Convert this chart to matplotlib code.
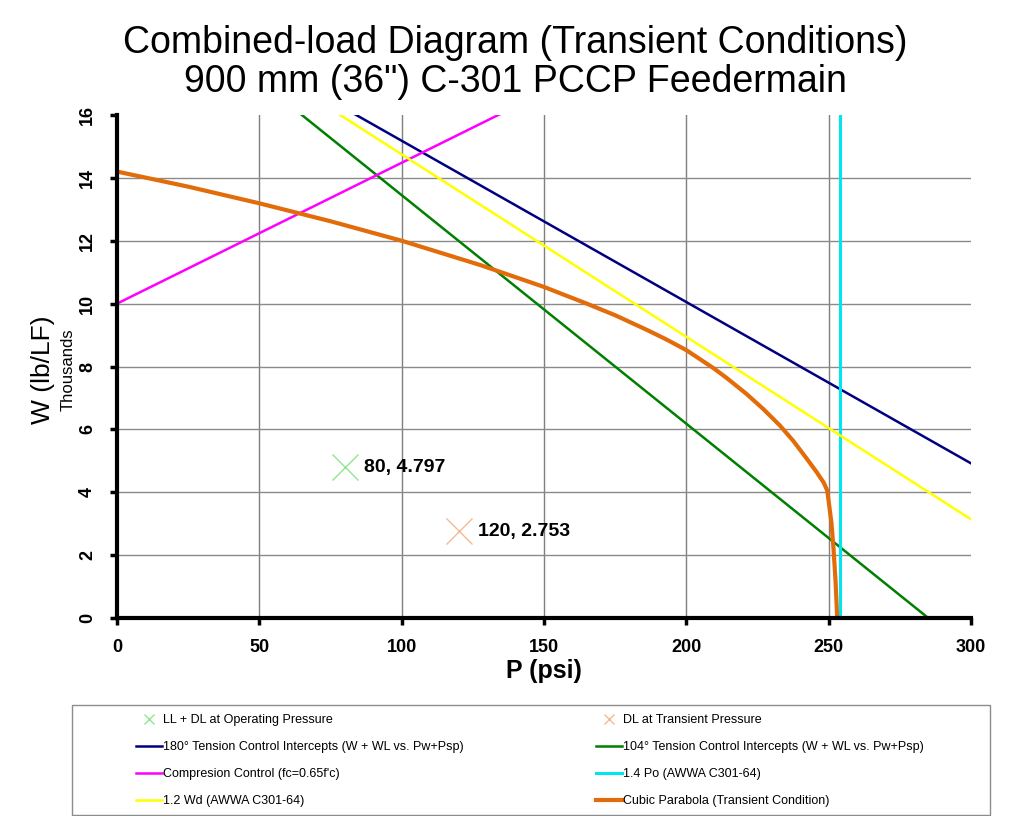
import numpy as np
import matplotlib
matplotlib.use("Agg")
import matplotlib.pyplot as plt
from matplotlib.patches import Rectangle

plt.rcParams['font.family'] = ['Liberation Sans', 'DejaVu Sans']

# Straight-line series (psi, thousands lb/LF), clipped by the axes
p_180 = [0, 300]
w_180 = [20.31, 4.92]
p_104 = [0, 285]
w_104 = [20.72, 0.0]
p_comp = [0, 300]
w_comp = [10.0, 23.44]
p_wd = [0, 300]
w_wd = [20.55, 3.14]
p_po = [254, 254]
w_po = [0, 16]

# Cubic parabola (transient condition)
p_cubic = [0, 25, 50, 75, 100, 127.5, 149.7, 165, 175, 186, 193, 200, 209.5,
           214.1, 221.1, 227, 232.9, 237.6, 242.2, 245.7, 248.3, 249.5,
           250.3, 251, 251.7, 252.4, 253]
w_cubic = [14.2, 13.72, 13.19, 12.62, 12.0, 11.23, 10.54, 10.0, 9.63, 9.17,
           8.86, 8.52, 7.95, 7.64, 7.13, 6.65, 6.12, 5.63, 5.08, 4.65, 4.3,
           4.05, 3.5, 3.0, 2.2, 1.2, 0.0]

# Single points
p_oper, w_oper = 80, 4.797
p_trans, w_trans = 120, 2.753

fig = plt.figure(figsize=(10.32, 8.16), dpi=100)
ax = fig.add_axes([0.1134, 0.2426, 0.8275, 0.6165])

# grid
for x in [50, 100, 150, 200, 250]:
    ax.axvline(x, color='#7f7f7f', lw=1.0, zorder=0)
for y in [2, 4, 6, 8, 10, 12, 14]:
    ax.axhline(y, color='#8a8a8a', lw=1.0, zorder=0)

h_oper, = ax.plot([p_oper], [w_oper], 'x', color='#8fe88f', ms=19, mew=1.0,
                  linestyle='none', label='LL + DL at Operating Pressure')
h_trans, = ax.plot([p_trans], [w_trans], 'x', color='#f5b996', ms=19, mew=1.0,
                   linestyle='none', label='DL at Transient Pressure')
h_180, = ax.plot(p_180, w_180, color='#000080', lw=1.8,
                 label='180° Tension Control Intercepts (W + WL vs. Pw+Psp)')
h_104, = ax.plot(p_104, w_104, color='#008000', lw=1.8,
                 label='104° Tension Control Intercepts (W + WL vs. Pw+Psp)')
h_comp, = ax.plot(p_comp, w_comp, color='#ff00ff', lw=1.8,
                  label="Compresion Control (fc=0.65f'c)")
h_po, = ax.plot(p_po, w_po, color='#00e5ee', lw=2.2,
                label='1.4 Po (AWWA C301-64)')
h_wd, = ax.plot(p_wd, w_wd, color='#ffff00', lw=1.8,
                label='1.2 Wd (AWWA C301-64)')
h_cubic, = ax.plot(p_cubic, w_cubic, color='#e36c0a', lw=3.0,
                   solid_joinstyle='round',
                   label='Cubic Parabola (Transient Condition)')

ax.annotate(f'{p_oper}, {w_oper}', (p_oper, w_oper), xytext=(14, 0),
            textcoords='offset points', va='center', fontsize=14, fontweight='bold')
ax.annotate(f'{p_trans}, {w_trans}', (p_trans, w_trans), xytext=(14, 0),
            textcoords='offset points', va='center', fontsize=14, fontweight='bold')

ax.set_xlim(0, 300)
ax.set_ylim(0, 16)
ax.set_xticks(range(0, 301, 50))
ax.set_yticks(range(0, 17, 2))
ax.tick_params(axis='both', direction='out', width=2.5, length=5, labelsize=13, pad=10)
for lbl in ax.get_xticklabels():
    lbl.set_fontweight('bold')
for lbl in ax.get_yticklabels():
    lbl.set_fontweight('bold')
    lbl.set_rotation(90)
    lbl.set_va('center')
for side in ['top', 'right']:
    ax.spines[side].set_visible(False)
for side in ['left', 'bottom']:
    ax.spines[side].set_linewidth(3)

ax.set_xlabel('P (psi)', fontsize=18, fontweight='bold', labelpad=2)
fig.text(0.042, 0.547, 'W (lb/LF)', rotation=90, fontsize=19, ha='center', va='center')
fig.text(0.066, 0.547, 'Thousands', rotation=90, fontsize=12, ha='center', va='center')

fig.text(0.499, 0.947, 'Combined-load Diagram (Transient Conditions)',
         fontsize=27, ha='center', va='center')
fig.text(0.499, 0.900, '900 mm (36") C-301 PCCP Feedermain',
         fontsize=27, ha='center', va='center')

# legend box
fig.patches.append(Rectangle((72 / 1032, 1 - 815 / 816), 918 / 1032, 110 / 816,
                             transform=fig.transFigure, fill=False,
                             edgecolor='#8c8c8c', lw=1.0))
handles = [h_oper, h_180, h_comp, h_wd, h_trans, h_104, h_po, h_cubic]
leg = fig.legend(handles=handles, labels=[h.get_label() for h in handles],
                 ncol=2, loc='upper left',
                 bbox_to_anchor=(136 / 1032, 1 - 714 / 816),
                 fontsize=9, handlelength=2.1, handletextpad=0.05,
                 borderpad=0, borderaxespad=0, labelspacing=1.2,
                 columnspacing=10.6, markerscale=0.4, frameon=False)

fig.savefig('out.png', dpi=100)
